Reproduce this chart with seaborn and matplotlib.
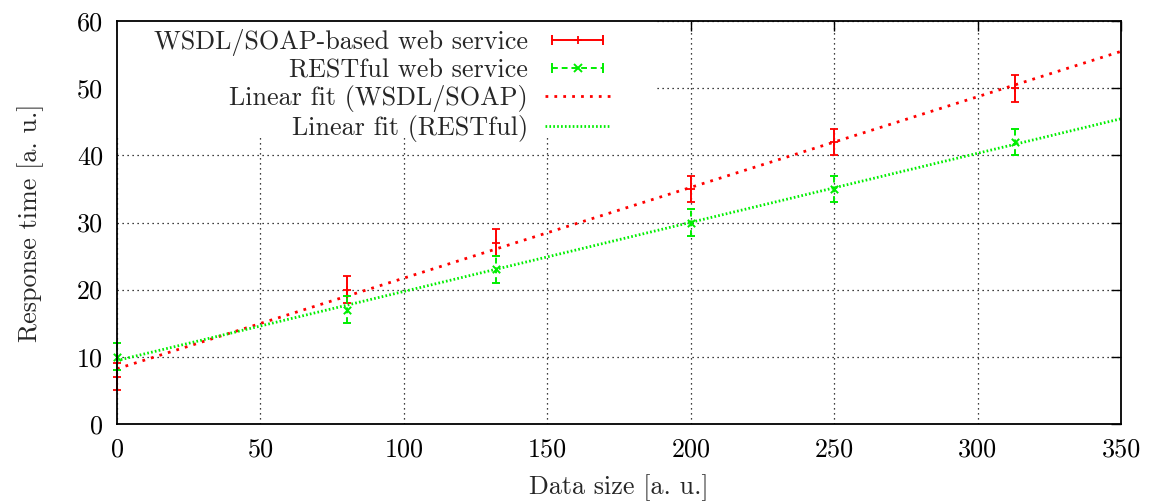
import numpy as np
import pandas as pd
import matplotlib
matplotlib.use("Agg")
import matplotlib.pyplot as plt
import seaborn as sns
from matplotlib.lines import Line2D
from matplotlib.patches import Rectangle
from matplotlib.legend_handler import HandlerLine2D, HandlerTuple

# ---- data ----
data_size = [0, 80, 132, 200, 250, 313]
soap_time = [7, 20, 27, 35, 42, 50]
soap_err = [2, 2, 2, 2, 2, 2]
rest_time = [10, 17, 23, 30, 35, 42]
rest_err = [2, 2, 2, 2, 2, 2]
x_ticks = [0, 50, 100, 150, 200, 250, 300, 350]
y_ticks = [0, 10, 20, 30, 40, 50, 60]

labels = ["WSDL/SOAP-based web service", "RESTful web service",
          "Linear fit (WSDL/SOAP)", "Linear fit (RESTful)"]

RED = "#ff0000"
GREEN = "#00ee00"

sns.set_theme(style="white")
plt.rcParams["font.family"] = ["cmr10", "DejaVu Serif"]
plt.rcParams["mathtext.fontset"] = "cm"
plt.rcParams["axes.formatter.use_mathtext"] = True
plt.rcParams["axes.unicode_minus"] = False

FS = 18.8

fig = plt.figure(figsize=(11.54, 5.04), dpi=100)
ax = fig.add_axes([0.1014, 0.159, 0.9716 - 0.1014, 0.958 - 0.159])
ax.set_axisbelow(True)

# linear fits
fit_x = np.array([0, 350])
ps = np.polyfit(data_size, soap_time, 1)
pr = np.polyfit(data_size, rest_time, 1)
df_fit = pd.DataFrame({
    "x": np.concatenate([fit_x, fit_x]),
    "y": np.concatenate([np.polyval(ps, fit_x), np.polyval(pr, fit_x)]),
    "s": [labels[2]] * 2 + [labels[3]] * 2,
})
RED_DOT = (0, (1, 2.2))
GREEN_DOT = (0, (0.6, 0.8))
sns.lineplot(data=df_fit[df_fit.s == labels[2]], x="x", y="y", ax=ax, color=RED,
             lw=2.0, ls=RED_DOT, legend=False, zorder=3)
sns.lineplot(data=df_fit[df_fit.s == labels[3]], x="x", y="y", ax=ax, color=GREEN,
             lw=2.0, ls=GREEN_DOT, legend=False, zorder=3)

# error bars
eb1 = ax.errorbar(data_size, soap_time, yerr=soap_err, fmt="+", color=RED, ms=6,
                  mew=1.3, elinewidth=1.4, capsize=2.8, capthick=1.4, zorder=4,
                  clip_on=False)
eb2 = ax.errorbar(data_size, rest_time, yerr=rest_err, fmt="none", ecolor=GREEN,
                  elinewidth=1.4, capsize=2.8, capthick=1.4, zorder=4,
                  clip_on=False)
eb2[2][0].set_linestyle((0, (3, 2)))
sns.scatterplot(x=data_size, y=rest_time, ax=ax, marker="x", color=GREEN, s=28,
                linewidth=1.4, zorder=5, clip_on=False)

ax.set_xlim(0, 350)
ax.set_ylim(0, 60)
ax.set_xticks(x_ticks)
ax.set_yticks(y_ticks)
ax.set_xticklabels([str(v) for v in x_ticks])
ax.set_yticklabels([str(v) for v in y_ticks])
ax.tick_params(direction="in", length=7, width=1, top=True, right=True,
               labelsize=FS, pad=10, colors="black")
for sp in ax.spines.values():
    sp.set_visible(True)
    sp.set_color("black")
    sp.set_linewidth(1.3)
    sp.set_zorder(6)
ax.grid(True, color="black", ls=(0, (1, 3)), lw=0.9)
ax.set_xlabel("Data size [a. u.]", fontsize=FS, labelpad=9)
ax.set_ylabel("Response time [a. u.]", fontsize=FS, labelpad=24)

# white key box covering the grid
ax.add_patch(Rectangle((0, 1 - 114 / 403), (655 - 117) / 1006, 114 / 403,
                       transform=ax.transAxes, facecolor="white",
                       edgecolor="none", zorder=1))

# legend handles
h1a = Line2D([], [], color=RED, lw=1.4, marker="|", ms=7, mew=1.4)
h1b = Line2D([], [], color=RED, ls="none", marker="+", ms=6, mew=1.3)
h2a = Line2D([], [], color=GREEN, lw=1.4, ls=(0, (3, 2)), marker="|", ms=7, mew=1.4)
h2b = Line2D([], [], color=GREEN, ls="none", marker="x", ms=5.5, mew=1.4)
h3 = Line2D([], [], color=RED, lw=2.0, ls=RED_DOT)
h4 = Line2D([], [], color=GREEN, lw=2.0, ls=GREEN_DOT)
leg = ax.legend([(h1a, h1b), (h2a, h2b), h3, h4], labels,
                handler_map={h1a: HandlerLine2D(numpoints=2),
                             h2a: HandlerLine2D(numpoints=2),
                             tuple: HandlerTuple(ndivide=1)},
                numpoints=1, markerfirst=False, loc="upper right",
                bbox_to_anchor=((612 - 117) / 1006, 1 - 8 / 403),
                fontsize=FS, frameon=False, handlelength=2.55,
                handletextpad=0.64, labelspacing=0.1, borderpad=0.0,
                borderaxespad=0.0)
leg.set_zorder(10)

fig.savefig("out.png", dpi=100)
